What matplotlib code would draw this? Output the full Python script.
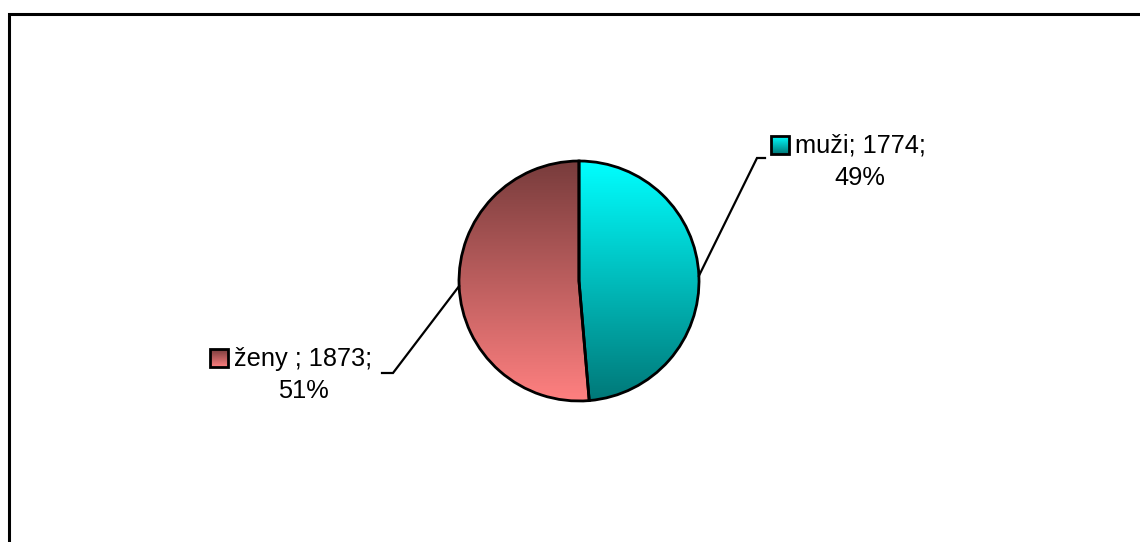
import numpy as np
import matplotlib
matplotlib.use('Agg')
import matplotlib.pyplot as plt
from matplotlib.patches import Rectangle

# ---- data ----
categories = ["muži", "ženy "]
values = [1774, 1873]
top_colors = [(0.0, 1.0, 1.0), (120/255, 60/255, 60/255)]
bottom_colors = [(0.0, 120/255, 120/255), (1.0, 128/255, 128/255)]

# ---- layout (pixels) ----
W, H = 1140, 542
cx, cy, R = 579, H - 281, 120
label_cx = [860, 303]
label_base = [H - 153, H - 366]
line_gap = 32
elbows = [((757, H - 158), (765, H - 158)), ((393, H - 373), (382, H - 373))]

plt.rcParams['font.family'] = ['Liberation Sans', 'DejaVu Sans']
fs = 18.3

fig = plt.figure(figsize=(W / 100, H / 100), dpi=100)
ax = fig.add_axes([0, 0, 1, 1])

wedges, _ = ax.pie(values, startangle=90, counterclock=False, center=(cx, cy),
                   radius=R,
                   wedgeprops=dict(facecolor='none', edgecolor='black',
                                   linewidth=2.0, zorder=3))


def grad(top, bottom, n=256):
    t = np.linspace(0, 1, n)[:, None]
    arr = (1 - t) * np.array(top)[None, :] + t * np.array(bottom)[None, :]
    return arr[:, None, :]


for w, tc, bc in zip(wedges, top_colors, bottom_colors):
    im = ax.imshow(grad(tc, bc), extent=(cx - R, cx + R, cy - R, cy + R),
                   aspect='auto', interpolation='bilinear', zorder=2)
    im.set_clip_path(w)

total = sum(values)
cum = 0
texts = []
for i, (cat, v) in enumerate(zip(categories, values)):
    mid = np.deg2rad(90 - 360 * (cum + v / 2) / total)
    cum += v
    ex, ey = cx + R * np.cos(mid), cy + R * np.sin(mid)
    (e1x, e1y), (e2x, e2y) = elbows[i]
    ax.plot([ex, e1x, e2x], [ey, e1y, e2y], color='black', lw=1.6,
            solid_joinstyle='miter', zorder=4, clip_on=False)
    pct = round(100 * v / total)
    t1 = ax.text(label_cx[i], label_base[i], f"{cat}; {v};", ha='center',
                 va='baseline', fontsize=fs, color='black')
    ax.text(label_cx[i], label_base[i] - line_gap, f"{pct}%", ha='center',
            va='baseline', fontsize=fs, color='black')
    texts.append(t1)

ax.set_xlim(0, W)
ax.set_ylim(0, H)
ax.set_aspect('auto')
ax.axis('off')

fig.canvas.draw()
renderer = fig.canvas.get_renderer()
ksz = 18
for i, t in enumerate(texts):
    bb = t.get_window_extent(renderer)
    x1 = bb.x0 - 6
    x0 = x1 - ksz
    y0 = label_base[i] - 1
    im = ax.imshow(grad(top_colors[i], bottom_colors[i]),
                   extent=(x0, x1, y0, y0 + ksz), aspect='auto',
                   interpolation='bilinear', zorder=5)
    ax.add_patch(Rectangle((x0, y0), ksz, ksz, facecolor='none',
                           edgecolor='black', lw=2.0, zorder=6))

# frame (left and top only visible)
ax.plot([8.5, 8.5, W + 5], [-5, H - 13.5, H - 13.5], color='black', lw=2.2,
        solid_joinstyle='miter', clip_on=False, zorder=7)

ax.set_xlim(0, W)
ax.set_ylim(0, H)
ax.set_aspect('auto')

fig.savefig('out.png', dpi=100)
